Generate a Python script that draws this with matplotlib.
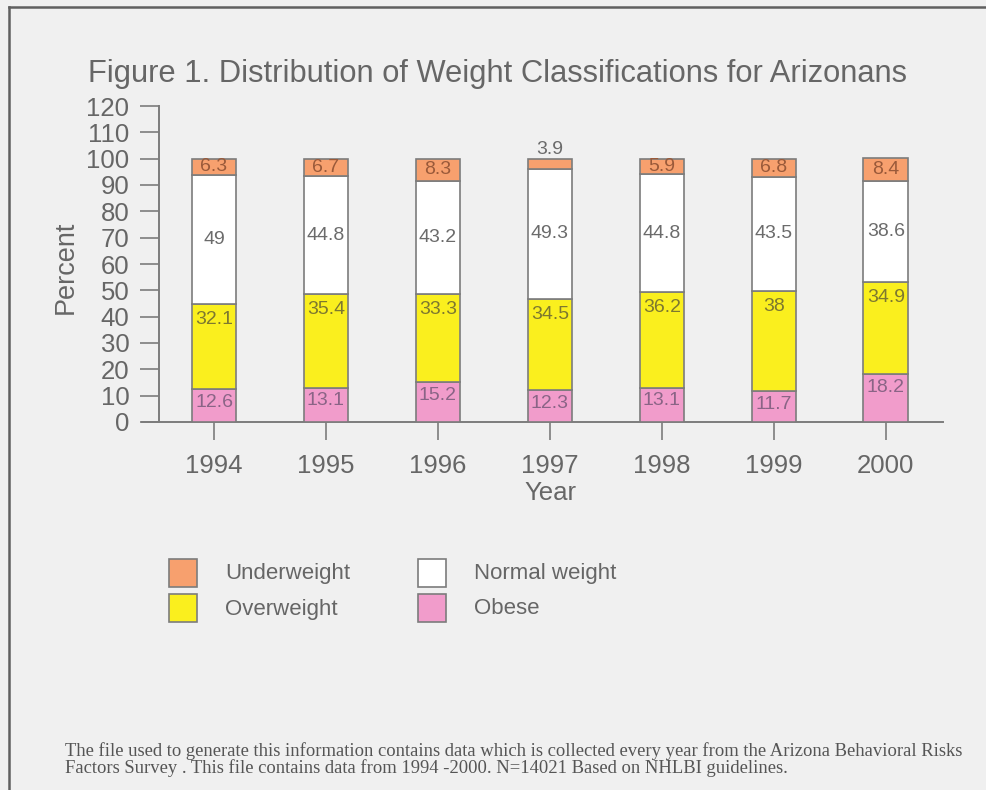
import matplotlib
matplotlib.use("Agg")
import matplotlib.pyplot as plt
from matplotlib.patches import Rectangle
from matplotlib.lines import Line2D
import numpy as np

years = ["1994", "1995", "1996", "1997", "1998", "1999", "2000"]
obese = [12.6, 13.1, 15.2, 12.3, 13.1, 11.7, 18.2]
overweight = [32.1, 35.4, 33.3, 34.5, 36.2, 38.0, 34.9]
normal = [49.0, 44.8, 43.2, 49.3, 44.8, 43.5, 38.6]
underweight = [6.3, 6.7, 8.3, 3.9, 5.9, 6.8, 8.4]
obese_txt = ["12.6", "13.1", "15.2", "12.3", "13.1", "11.7", "18.2"]
overweight_txt = ["32.1", "35.4", "33.3", "34.5", "36.2", "38", "34.9"]
normal_txt = ["49", "44.8", "43.2", "49.3", "44.8", "43.5", "38.6"]
underweight_txt = ["6.3", "6.7", "8.3", "3.9", "5.9", "6.8", "8.4"]
yticks = list(range(0, 121, 10))

W, H = 987, 790
BG = "#f0f0f0"
GRAY = "#666666"
EDGE = "#7c7c7c"
C_UNDER, C_NORM, C_OVER, C_OBESE = "#F7A06E", "#FFFFFF", "#FAEF1E", "#F19CCB"
T_UNDER, T_NORM, T_OVER, T_OBESE = "#9a5a3a", "#6b6b6b", "#7d7830", "#8a6486"

plt.rcParams['font.family'] = ['Liberation Sans', 'DejaVu Sans']

fig = plt.figure(figsize=(W / 100, H / 100), dpi=100, facecolor=BG)

def fx(px):
    return px / W

def fy(py):
    return 1 - py / H

# frame lines (top and left)
fig.add_artist(Line2D([fx(9), 1], [fy(7), fy(7)], color="#606060", lw=1.8, transform=fig.transFigure))
fig.add_artist(Line2D([fx(9), fx(9)], [fy(7), 0], color="#606060", lw=1.8, transform=fig.transFigure))

ax = fig.add_axes([fx(142), fy(422), fx(943) - fx(142), fy(106) - fy(422)])
ax.set_facecolor(BG)
x = np.arange(len(years))
bw = 0.40
ob = np.array(obese)
ov = np.array(overweight)
no = np.array(normal)
un = np.array(underweight)

kw = dict(width=bw, edgecolor=EDGE, linewidth=1.2, zorder=3)
b1 = ax.bar(x, ob, color=C_OBESE, label="Obese", **kw)
b2 = ax.bar(x, ov, bottom=ob, color=C_OVER, label="Overweight", **kw)
b3 = ax.bar(x, no, bottom=ob + ov, color=C_NORM, label="Normal weight", **kw)
b4 = ax.bar(x, un, bottom=ob + ov + no, color=C_UNDER, label="Underweight", **kw)

lf = 14
for i in range(len(years)):
    ax.text(x[i], ob[i] - 5.1, obese_txt[i], ha="center", va="center", fontsize=lf, color=T_OBESE, zorder=5)
    ax.text(x[i], ob[i] + ov[i] - 5.9, overweight_txt[i], ha="center", va="center", fontsize=lf, color=T_OVER, zorder=5)
    ax.text(x[i], ob[i] + ov[i] + no[i] / 2, normal_txt[i], ha="center", va="center", fontsize=lf, color=T_NORM, zorder=5)
    top = ob[i] + ov[i] + no[i]
    if un[i] < 5:
        ax.text(x[i], top + un[i] + 3.6, underweight_txt[i], ha="center", va="center", fontsize=lf, color=T_NORM, zorder=5)
    else:
        ax.text(x[i], top + un[i] / 2, underweight_txt[i], ha="center", va="center", fontsize=lf, color=T_UNDER, zorder=5)

ax.set_xlim(-0.643, 6.51)
ax.set_ylim(0, 120)
ax.set_yticks(yticks)
ax.set_yticklabels([str(v) for v in yticks])
ax.set_xticks(x)
ax.set_xticklabels(years)
for s in ["top", "right"]:
    ax.spines[s].set_visible(False)
ax.spines["left"].set_position(("data", -0.49))
ax.spines["left"].set_color(EDGE)
ax.spines["bottom"].set_color(EDGE)
ax.spines["left"].set_linewidth(1.4)
ax.spines["bottom"].set_linewidth(1.4)
ax.tick_params(axis="y", direction="out", length=13.5, width=1.2, color=EDGE, pad=8, labelsize=18.5, labelcolor=GRAY)
ax.tick_params(axis="x", direction="out", length=13, width=1.2, color=EDGE, pad=10, labelsize=18.5, labelcolor=GRAY)

fig.text(fx(66), fy(267), "Percent", rotation=90, ha="center", va="center", fontsize=19.5, color=GRAY)
fig.text(fx(550), fy(493), "Year", ha="center", va="center", fontsize=18.5, color=GRAY)
fig.text(fx(88), fy(74), "Figure 1. Distribution of Weight Classifications for Arizonans",
         ha="left", va="center", fontsize=22.2, color=GRAY)

# legend
legend_items = [("Underweight", C_UNDER, 169, 559), ("Overweight", C_OVER, 169, 594),
                ("Normal weight", C_NORM, 418, 559), ("Obese", C_OBESE, 418, 594)]
for name, col, px, py in legend_items:
    fig.add_artist(Rectangle((fx(px), fy(py + 28)), 28 / W, 28 / H, facecolor=col, edgecolor=EDGE,
                             lw=1.2, transform=fig.transFigure))
    fig.text(fx(px + 56), fy(py + 15), name, ha="left", va="center", fontsize=16, color=GRAY)

note_lines = ["The file used to generate this information contains data which is collected every year from the Arizona Behavioral Risks",
              "Factors Survey . This file contains data from 1994 -2000. N=14021 Based on NHLBI guidelines."]
for k, line in enumerate(note_lines):
    fig.text(fx(65), fy(751 + 17 * k), line, ha="left", va="center", fontsize=13.4,
             color="#555555", family=["Liberation Serif", "DejaVu Serif"])

fig.savefig("out.png", dpi=100, facecolor=BG)
